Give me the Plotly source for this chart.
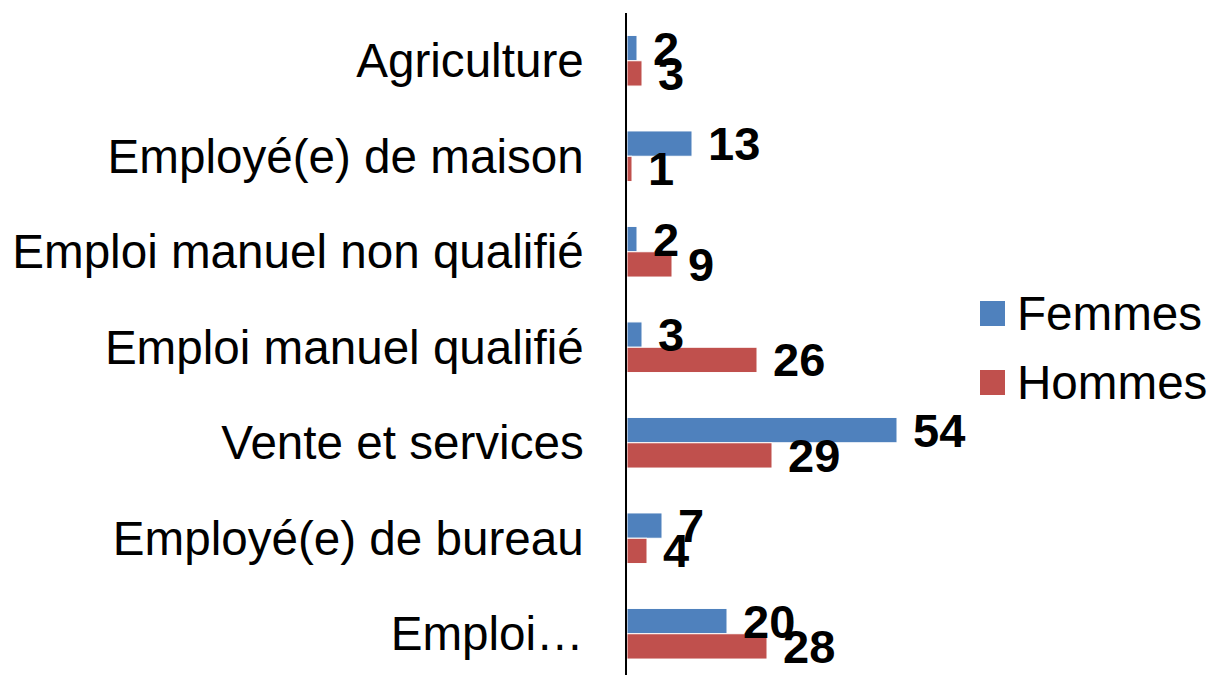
import plotly.graph_objects as go

categories = ["Agriculture", "Employé(e) de maison", "Emploi manuel non qualifié",
              "Emploi manuel qualifié", "Vente et services", "Employé(e) de bureau", "Emploi…"]
femmes = [2, 13, 2, 3, 54, 7, 20]
hommes = [3, 1, 9, 26, 29, 4, 28]
series_names = ["Femmes", "Hommes"]
colors = ["#4F81BD", "#C0504D"]

W, H = 1209, 675
L, R, T, B = 627, 282, 13, 0
FONT = "Liberation Sans, Arial, sans-serif"

fig = go.Figure()
series = list(zip(series_names, [femmes, hommes], colors))
# bars first
for name, vals, col in series:
    fig.add_trace(go.Bar(
        y=categories, x=vals, name=name, orientation="h", offsetgroup=name,
        marker=dict(color=col, line=dict(color="white", width=1)),
        showlegend=False, hoverinfo="skip",
    ))
# value labels in a later layer so they sit above every bar
for name, vals, col in series:
    fig.add_trace(go.Bar(
        y=categories, x=vals, name=name, orientation="h", offsetgroup=name,
        marker=dict(color="rgba(0,0,0,0)", line=dict(width=0)),
        texttemplate="\u00a0%{x}", textposition="outside",
        textfont=dict(family=FONT, size=47, color="black", weight="bold"),
        constraintext="none", cliponaxis=False, showlegend=False,
    ))

pw, ph = W - L - R, H - T - B
def px(x):
    return (x - L) / pw
def py(y):
    return (H - B - y) / ph

# legend drawn manually to match the large swatches
leg = [(series_names[0], colors[0], 301, 326, 313), (series_names[1], colors[1], 370, 395, 382)]
for name, col, y0, y1, yc in leg:
    fig.add_shape(type="rect", xref="paper", yref="paper",
                  x0=px(980), x1=px(1005), y0=py(y1), y1=py(y0),
                  fillcolor=col, line=dict(width=0))
    fig.add_annotation(xref="paper", yref="paper", x=px(1015), y=py(yc),
                       xanchor="left", yanchor="middle", text=name, showarrow=False,
                       font=dict(family=FONT, size=47.6, color="black"))

fig.update_layout(
    width=W, height=H, autosize=False,
    margin=dict(l=L, r=R, t=T, b=B, pad=0),
    paper_bgcolor="white", plot_bgcolor="white",
    barmode="group", bargap=0.47, bargroupgap=0,
    font=dict(family=FONT, color="black"),
    showlegend=False,
)
fig.update_xaxes(range=[0, 60], showgrid=False, zeroline=False, showticklabels=False,
                 showline=False, ticks="")
fig.update_yaxes(type="category", range=[6.432, -0.5], showgrid=False, zeroline=False,
                 showline=True, linecolor="black", linewidth=1.5, ticks="",
                 ticklabelstandoff=32,
                 tickfont=dict(family=FONT, size=47.6, color="black"))

fig.write_html("out.html", config={"displayModeBar": False},
               post_script="document.body.style.margin='0';")
